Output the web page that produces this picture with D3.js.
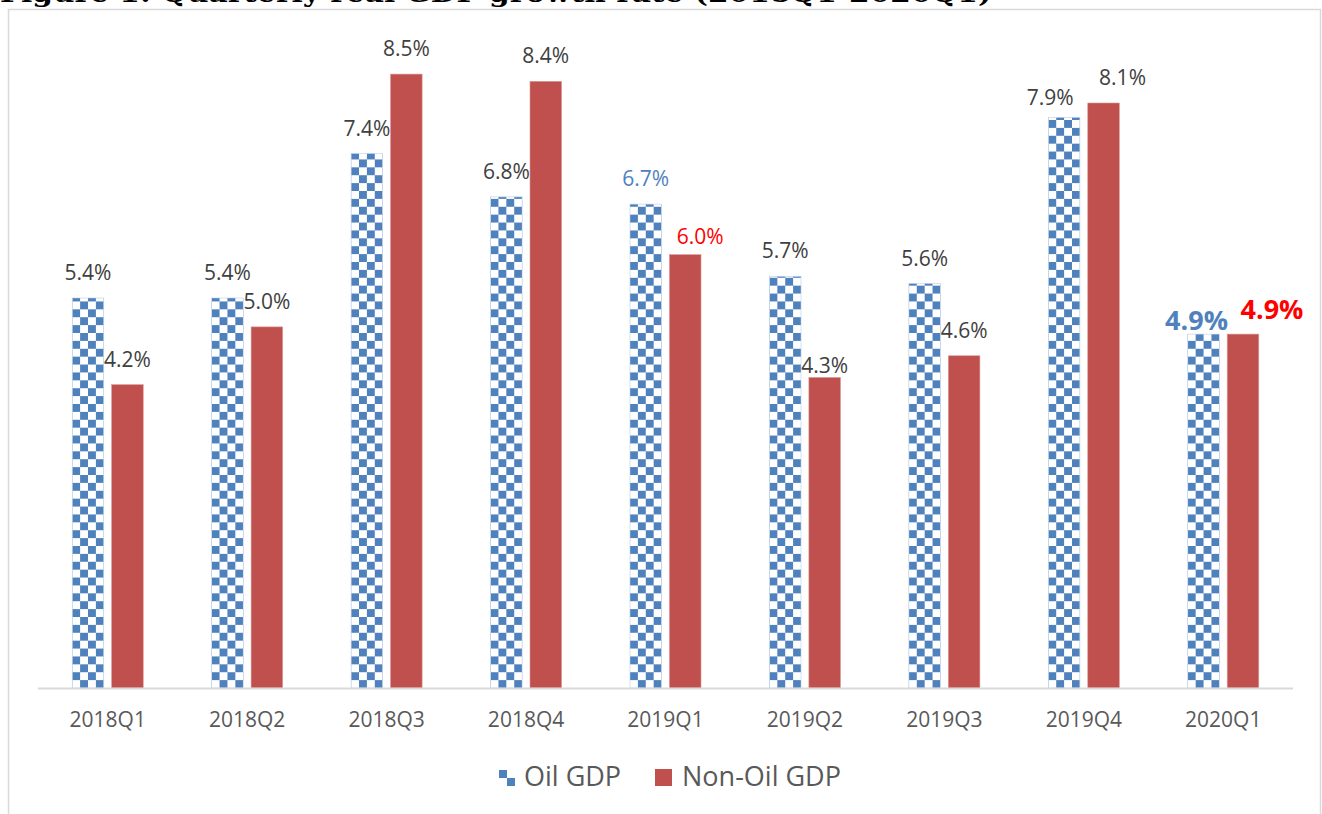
<!DOCTYPE html>
<html>
<head>
<meta charset="utf-8">
<script src="https://cdn.jsdelivr.net/npm/d3@7"></script>
<style>
  html, body { margin: 0; padding: 0; background: #ffffff; }
  svg { display: block; }
</style>
</head>
<body>
<svg id="chart" width="1322" height="814"></svg>
<script>
// ---- data ----
const titleText = "Figure 1: Quarterly real GDP growth rate (2018Q1-2020Q1)";
const categories = ["2018Q1", "2018Q2", "2018Q3", "2018Q4", "2019Q1", "2019Q2", "2019Q3", "2019Q4", "2020Q1"];
const oilGDP    = [5.4, 5.4, 7.4, 6.8, 6.7, 5.7, 5.6, 7.9, 4.9];
const nonOilGDP = [4.2, 5.0, 8.5, 8.4, 6.0, 4.3, 4.6, 8.1, 4.9];
const seriesNames = ["Oil GDP", "Non-Oil GDP"];

// ---- layout / style ----
const W = 1322, H = 814;
const plot = { left: 38, right: 1293, top: 38, bottom: 688 };
const blue = "#4f81bd", red = "#c0504d";
const labelColor = "#404040", axisText = "#595959";
const font = "'Open Sans', 'Noto Sans', sans-serif";

const svg = d3.select("#chart");

// frame
svg.append("rect")
  .attr("x", 8.5).attr("y", 9.5)
  .attr("width", 1312).attr("height", 900)
  .attr("fill", "none").attr("stroke", "#d9d9d9").attr("stroke-width", 1.5);

// title (mostly cropped above top, as in the original)
svg.append("text")
  .attr("x", 0).attr("y", 2)
  .attr("font-family", "'DejaVu Serif', 'Liberation Serif', serif")
  .attr("font-weight", "bold")
  .attr("font-size", 26)
  .attr("textLength", 992)
  .attr("lengthAdjust", "spacingAndGlyphs")
  .attr("fill", "#000")
  .text(titleText);

// scales
const x0 = d3.scaleBand().domain(categories).range([plot.left, plot.right]).paddingInner(0).paddingOuter(0);
const groupW = 71;
const x1 = d3.scaleBand().domain(seriesNames).range([0, groupW]).paddingInner(0.2).paddingOuter(0);
const y = d3.scaleLinear().domain([0, 9]).range([plot.bottom, plot.top]);

const bw = x1.bandwidth();
const cell = bw / 4;
const groupX = c => x0(c) + (x0.bandwidth() - groupW) / 2;

const defs = svg.append("defs");
function checker(id, ox, oy, size) {
  const p = defs.append("pattern")
    .attr("id", id)
    .attr("patternUnits", "userSpaceOnUse")
    .attr("x", ox).attr("y", oy)
    .attr("width", size * 2).attr("height", size * 2);
  p.append("rect").attr("width", size * 2).attr("height", size * 2).attr("fill", "#ffffff");
  p.append("rect").attr("x", 0).attr("y", 0).attr("width", size).attr("height", size).attr("fill", blue);
  p.append("rect").attr("x", size).attr("y", size).attr("width", size).attr("height", size).attr("fill", blue);
}

categories.forEach((c, i) => checker("chk" + i, groupX(c) + x1("Oil GDP"), plot.bottom, cell));

const rows = categories.map((c, i) => ({ cat: c, i, oil: oilGDP[i], non: nonOilGDP[i] }));

// oil bars
svg.append("g").selectAll("rect").data(rows).join("rect")
  .attr("x", d => groupX(d.cat) + x1("Oil GDP"))
  .attr("y", d => y(d.oil))
  .attr("width", bw)
  .attr("height", d => y(0) - y(d.oil))
  .attr("fill", d => `url(#chk${d.i})`)
  .attr("stroke", "#b9cde6").attr("stroke-width", 0.6);

// non-oil bars
svg.append("g").selectAll("rect").data(rows).join("rect")
  .attr("x", d => groupX(d.cat) + x1("Non-Oil GDP"))
  .attr("y", d => y(d.non))
  .attr("width", bw)
  .attr("height", d => y(0) - y(d.non))
  .attr("fill", red)
  .attr("stroke", "#d99694").attr("stroke-width", 0.6);

// axis baseline
svg.append("line")
  .attr("x1", plot.left).attr("x2", plot.right)
  .attr("y1", plot.bottom + 0.5).attr("y2", plot.bottom + 0.5)
  .attr("stroke", "#d9d9d9").attr("stroke-width", 2);

// x axis labels
const xAxis = d3.axisBottom(x0).tickSize(0).tickPadding(0);
const gx = svg.append("g").attr("transform", `translate(0,${plot.bottom})`).call(xAxis);
gx.select(".domain").remove();
gx.selectAll("text")
  .attr("y", 39).attr("dy", null)
  .attr("font-family", font).attr("font-size", 21).attr("fill", axisText);

// data labels (manual nudges as in the original chart)
const nudgeOil = { "2019Q4": [-14, 6], "2020Q1": [-7, 14] };
const nudgeNon = { "2019Q1": [15, 7], "2019Q2": [0, 14], "2019Q4": [19, 0], "2020Q1": [29, 3] };
const fmt = v => v.toFixed(1) + "%";

svg.append("g").selectAll("text").data(rows).join("text")
  .attr("x", d => groupX(d.cat) + x1("Oil GDP") + bw / 2 + (nudgeOil[d.cat] || [0, 0])[0])
  .attr("y", d => y(d.oil) - 18 + (nudgeOil[d.cat] || [0, 0])[1])
  .attr("text-anchor", "middle")
  .attr("font-family", font)
  .attr("font-size", d => d.cat === "2020Q1" ? 27 : 21)
  .attr("font-weight", d => d.cat === "2020Q1" ? "bold" : "normal")
  .attr("fill", d => (d.cat === "2019Q1" || d.cat === "2020Q1") ? blue : labelColor)
  .text(d => fmt(d.oil));

svg.append("g").selectAll("text").data(rows).join("text")
  .attr("x", d => groupX(d.cat) + x1("Non-Oil GDP") + bw / 2 + (nudgeNon[d.cat] || [0, 0])[0])
  .attr("y", d => y(d.non) - 18 + (nudgeNon[d.cat] || [0, 0])[1])
  .attr("text-anchor", "middle")
  .attr("font-family", font)
  .attr("font-size", d => d.cat === "2020Q1" ? 27 : 21)
  .attr("font-weight", d => d.cat === "2020Q1" ? "bold" : "normal")
  .attr("fill", d => (d.cat === "2019Q1" || d.cat === "2020Q1") ? "#ff0000" : labelColor)
  .text(d => fmt(d.non));

// legend
checker("chkLegend", 499, 770, 8);
const legend = svg.append("g");
legend.append("rect").attr("x", 499).attr("y", 770).attr("width", 16).attr("height", 16)
  .attr("fill", "url(#chkLegend)");
legend.append("text").attr("x", 524).attr("y", 786)
  .attr("font-family", font).attr("font-size", 27).attr("fill", axisText).text(seriesNames[0]);
legend.append("rect").attr("x", 655).attr("y", 769).attr("width", 17).attr("height", 17)
  .attr("fill", red);
legend.append("text").attr("x", 682).attr("y", 786)
  .attr("font-family", font).attr("font-size", 27).attr("fill", axisText).text(seriesNames[1]);
</script>
</body>
</html>
